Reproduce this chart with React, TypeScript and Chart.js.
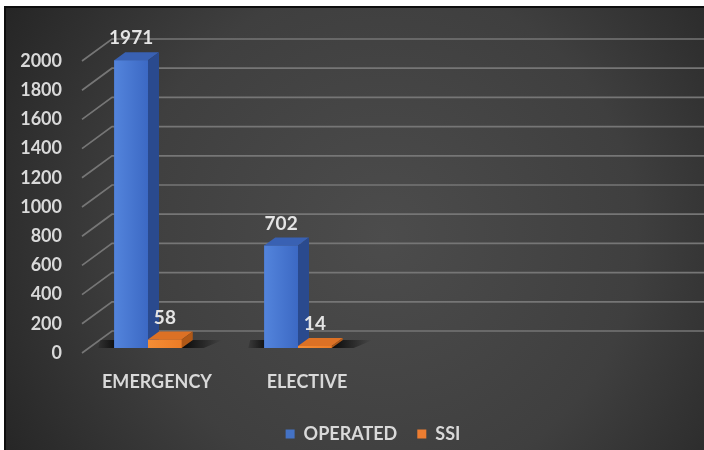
import React, { useEffect, useRef } from "react";
import { Chart, registerables } from "chart.js";

Chart.register(...registerables);

const categories = ["EMERGENCY", "ELECTIVE", "", ""];
const operatedValues = [1971, 702, null, null];
const ssiValues = [58, 14, null, null];
const seriesNames = ["OPERATED", "SSI"];
const yMax = 2000;
const yStep = 200;

const FONT = "Lato, 'Open Sans', sans-serif";
const TEXT = "#d9d9d9";
const BAR_DX = 11;
const BAR_DY = -8;
const FLOOR_DX = 30;
const FLOOR_DY = -22;

const faceColors = [
  { front: ["#5384dc", "#3c69c4"], top: "#3961b3", side: "#2a4a8e" },
  { front: ["#f58d35", "#ec7c26"], top: "#dc7125", side: "#b05817" },
];

const bgPlugin = {
  id: "bg3d",
  beforeDraw(chart: any) {
    const { ctx, width, height } = chart;
    ctx.save();
    const g = ctx.createRadialGradient(380, 230, 0, 380, 230, 460);
    g.addColorStop(0, "#4c4c4c");
    g.addColorStop(0.55, "#3f3f3f");
    g.addColorStop(1, "#232323");
    ctx.fillStyle = g;
    ctx.fillRect(0, 0, width, height);
    ctx.fillStyle = "#0e0e0e";
    ctx.fillRect(0, 0, width, 2);
    ctx.fillRect(0, 0, 2, height);
    ctx.restore();
  },
  beforeDatasetsDraw(chart: any) {
    const { ctx, chartArea, scales, width } = chart;
    const y = scales.y;
    ctx.save();
    ctx.strokeStyle = "#767676";
    ctx.lineWidth = 1.7;
    y.ticks.forEach((t: any) => {
      const py = y.getPixelForValue(t.value);
      const x0 = chartArea.left + 9;
      const x1 = x0 + FLOOR_DX;
      ctx.beginPath();
      ctx.moveTo(x0, py + 5);
      ctx.lineTo(x1, py + 5 + FLOOR_DY);
      ctx.lineTo(width, py + 5 + FLOOR_DY);
      ctx.stroke();
    });
    // shadows on floor
    const m0 = chart.getDatasetMeta(0);
    const m1 = chart.getDatasetMeta(1);
    m0.data.forEach((b0: any, j: number) => {
      const b1 = m1.data[j];
      if (operatedValues[j] == null) return;
      const p0 = b0.getProps(["x", "base", "width"], true);
      const p1 = b1.getProps(["x", "base", "width"], true);
      const left = p0.x - p0.width / 2;
      const right = p1.x + p1.width / 2;
      const base = p0.base;
      const gr = ctx.createLinearGradient(right, 0, right + 40, 0);
      gr.addColorStop(0, "rgba(0,0,0,0.85)");
      gr.addColorStop(1, "rgba(0,0,0,0)");
      ctx.fillStyle = gr;
      ctx.beginPath();
      ctx.moveTo(right - 4, base);
      ctx.lineTo(right + BAR_DX, base + BAR_DY);
      ctx.lineTo(right + BAR_DX + 30, base + BAR_DY);
      ctx.lineTo(right + 22, base);
      ctx.closePath();
      ctx.fill();
      const gl = ctx.createLinearGradient(left, 0, left - 20, 0);
      gl.addColorStop(0, "rgba(0,0,0,0.7)");
      gl.addColorStop(1, "rgba(0,0,0,0)");
      ctx.fillStyle = gl;
      ctx.beginPath();
      ctx.moveTo(left + 2, base);
      ctx.lineTo(left + BAR_DX, base + BAR_DY);
      ctx.lineTo(left - 14, base + BAR_DY);
      ctx.lineTo(left - 16, base);
      ctx.closePath();
      ctx.fill();
    });
    ctx.restore();
  },
  afterDatasetsDraw(chart: any) {
    const { ctx } = chart;
    const metas = [chart.getDatasetMeta(0), chart.getDatasetMeta(1)];
    const values = [operatedValues, ssiValues];
    ctx.save();
    for (let j = 0; j < categories.length; j++) {
      for (let i = 0; i < metas.length; i++) {
        if (values[i][j] == null) continue;
        const bar = metas[i].data[j];
        const { x, y, base, width } = bar.getProps(["x", "y", "base", "width"], true);
        const left = x - width / 2;
        const right = x + width / 2;
        const c = faceColors[i];
        const fg = ctx.createLinearGradient(left, 0, right, 0);
        fg.addColorStop(0, c.front[0]);
        fg.addColorStop(1, c.front[1]);
        ctx.fillStyle = fg;
        ctx.fillRect(left, y, width, base - y);
        ctx.fillStyle = c.top;
        ctx.beginPath();
        ctx.moveTo(left, y);
        ctx.lineTo(left + BAR_DX, y + BAR_DY);
        ctx.lineTo(right + BAR_DX, y + BAR_DY);
        ctx.lineTo(right, y);
        ctx.closePath();
        ctx.fill();
        ctx.fillStyle = c.side;
        ctx.beginPath();
        ctx.moveTo(right, y);
        ctx.lineTo(right + BAR_DX, y + BAR_DY);
        ctx.lineTo(right + BAR_DX, base + BAR_DY);
        ctx.lineTo(right, base);
        ctx.closePath();
        ctx.fill();
      }
    }
    // data labels
    ctx.fillStyle = "#e4e4e4";
    ctx.font = `bold 19px ${FONT}`;
    ctx.textAlign = "center";
    ctx.textBaseline = "middle";
    for (let i = 0; i < metas.length; i++) {
      metas[i].data.forEach((bar: any, j: number) => {
        const v = values[i][j];
        if (v == null) return;
        const { x, y } = bar.getProps(["x", "y"], true);
        ctx.fillText(String(v), x, y - 22);
      });
    }
    ctx.restore();
  },
};

export default function App() {
  const ref = useRef<HTMLCanvasElement | null>(null);
  useEffect(() => {
    if (!ref.current) return;
    const chart = new Chart(ref.current, {
      type: "bar",
      data: {
        labels: categories,
        datasets: [
          { label: seriesNames[0], data: operatedValues, backgroundColor: "#4472C4", borderWidth: 0 },
          { label: seriesNames[1], data: ssiValues, backgroundColor: "#ED7D31", borderWidth: 0 },
        ],
      },
      options: {
        responsive: false,
        animation: false,
        devicePixelRatio: 1,
        categoryPercentage: 0.45,
        barPercentage: 1,
        layout: { padding: { top: 50, right: 31, left: 0, bottom: -3 } },
        plugins: {
          tooltip: { enabled: false },
          legend: {
            position: "bottom",
            fullSize: false,
            labels: {
              color: TEXT,
              font: { family: FONT, size: 18, weight: "bold" },
              boxWidth: 9,
              boxHeight: 9,
              padding: 20,
            },
          },
        },
        scales: {
          x: {
            grid: { display: false, drawTicks: false },
            border: { display: false },
            ticks: {
              color: TEXT,
              font: { family: FONT, size: 18, weight: "bold" },
              padding: 23,
              labelOffset: 9,
              maxRotation: 0,
              autoSkip: false,
            },
            afterFit: (s: any) => {
              s.height = 57;
            },
          },
          y: {
            min: 0,
            max: yMax,
            grid: { display: false, drawTicks: false },
            border: { display: false },
            ticks: {
              stepSize: yStep,
              color: TEXT,
              font: { family: FONT, size: 18, weight: "bold" },
              padding: 11,
              labelOffset: 5,
              callback: (v: any) => String(v),
            },
            afterFit: (s: any) => {
              s.width = 69;
            },
          },
        },
      },
      plugins: [bgPlugin],
    });
    return () => chart.destroy();
  }, []);
  return (
    <div style={{ position: "absolute", left: 0, top: 0, width: 704, height: 450, background: "#fff", overflow: "hidden" }}>
      <canvas
        ref={ref}
        width={700}
        height={444}
        style={{ position: "absolute", left: 4, top: 6, width: 700, height: 444 }}
      />
    </div>
  );
}
